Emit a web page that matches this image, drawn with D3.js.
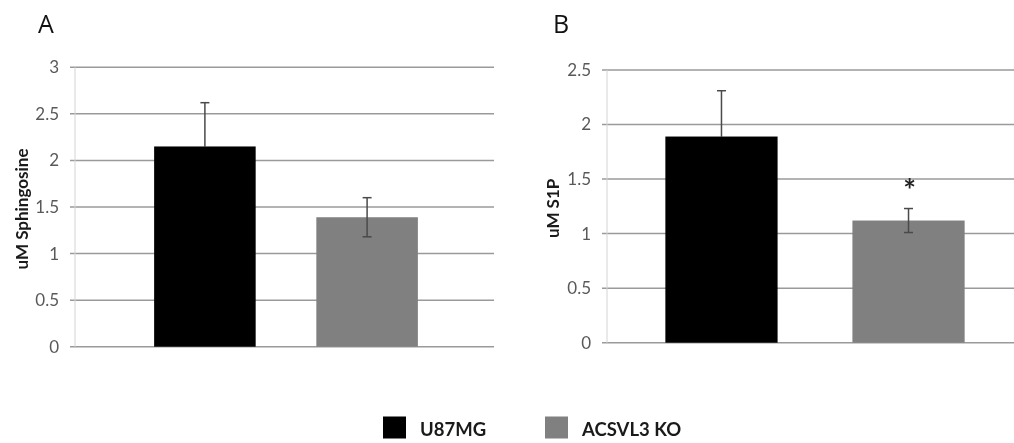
<!DOCTYPE html>
<head>
	<meta charset="utf-8">
	<title>Sphingosine and S1P</title>
	<script src="https://cdn.jsdelivr.net/npm/d3@7"></script>
	<style>
		body { margin: 0; background: #fff; }
		svg { font-family: Lato, "Open Sans", sans-serif; }
	</style>
</head>

<body>
	<div id="chart"></div>

  <script>
		var series = ["U87MG", "ACSVL3 KO"];
		var colors = ["#000000", "#808080"];
		var sphingosine = [2.15, 1.39];
		var sphingosineErr = [0.47, 0.21];
		var s1p = [1.89, 1.12];
		var s1pErr = [0.42, 0.11];
		var ticksA = [0, 0.5, 1, 1.5, 2, 2.5, 3];
		var ticksB = [0, 0.5, 1, 1.5, 2, 2.5];

		var svg = d3.select("#chart").append("svg")
			.attr("width", 1014)
			.attr("height", 443);

		// one panel: a single category with two clustered bars
		function panel(opt) {
			var y = d3.scaleLinear().domain([0, opt.max]).range([opt.bottom, opt.top]);
			var x0 = d3.scaleBand().domain(["all"]).range([opt.left, opt.right])
				.paddingInner(0).paddingOuter(opt.outer);
			var x1 = d3.scaleBand().domain(series).range([0, x0.bandwidth()])
				.paddingInner(opt.inner).paddingOuter(0);

			var g = svg.append("g");

			// gridlines (with the little tick stub left of the axis)
			g.selectAll("line.grid").data(opt.ticks).enter().append("line")
				.attr("class", "grid")
				.attr("x1", opt.left - 5).attr("x2", opt.gridRight)
				.attr("y1", function (d) { return y(d); })
				.attr("y2", function (d) { return y(d); })
				.style("stroke", "#9a9a9a").style("stroke-width", 1.5);

			g.append("line")
				.attr("x1", opt.left).attr("x2", opt.left)
				.attr("y1", y(opt.max)).attr("y2", y(0))
				.style("stroke", "#d4d4d4").style("stroke-width", 1);

			// tick labels via d3 axis, then strip its lines
			var ax = g.append("g")
				.attr("transform", "translate(" + (opt.left - 5) + ",0)")
				.call(d3.axisLeft(y).tickValues(opt.ticks).tickSize(0).tickPadding(11)
					.tickFormat(function (d) { return String(d); }));
			ax.select(".domain").remove();
			ax.selectAll("text").style("font-size", "17px").style("fill", "#595959")
				.style("font-family", "Lato, 'Open Sans', sans-serif");

			var gx = x0("all");
			g.selectAll("rect.bar").data(opt.values).enter().append("rect")
				.attr("class", "bar")
				.attr("x", function (d, i) { return gx + x1(series[i]); })
				.attr("width", x1.bandwidth())
				.attr("y", function (d) { return y(d); })
				.attr("height", function (d) { return y(0) - y(d); })
				.style("fill", function (d, i) { return colors[i]; });

			// error bars; "darken" hides them on the black bar like the original
			opt.values.forEach(function (v, i) {
				var cx = gx + x1(series[i]) + x1.bandwidth() / 2;
				var hi = y(v + opt.err[i]), lo = y(v - opt.err[i]);
				var eb = g.append("g").style("mix-blend-mode", "darken");
				eb.append("line").attr("x1", cx).attr("x2", cx).attr("y1", hi).attr("y2", lo)
					.style("stroke", "#4a4a4a").style("stroke-width", 1.5);
				[hi, lo].forEach(function (yy) {
					eb.append("line").attr("x1", cx - 4.5).attr("x2", cx + 4.5)
						.attr("y1", yy).attr("y2", yy)
						.style("stroke", "#4a4a4a").style("stroke-width", 1.5);
				});
				if (opt.star && opt.star[i]) {
					g.append("text").attr("x", cx + 1).attr("y", hi - 8)
						.attr("text-anchor", "middle")
						.style("font-size", "30px").style("font-weight", "bold")
						.style("fill", "#222").text("*");
				}
			});

			g.append("text")
				.attr("transform", "translate(" + opt.labelX + "," + ((y(0) + y(opt.max)) / 2 + 2) + ") rotate(-90)")
				.attr("text-anchor", "middle")
				.style("font-size", "17px").style("font-weight", "bold").style("fill", "#1a1a1a")
				.text(opt.label);

			g.append("text")
				.attr("x", opt.letterX).attr("y", 33)
				.style("font-size", "25px").style("fill", "#111")
				.style("font-family", "'Open Sans', Lato, sans-serif")
				.text(opt.letter);
		}

		panel({ values: sphingosine, err: sphingosineErr, ticks: ticksA, max: 3,
			top: 67.3, bottom: 346.7, left: 75, right: 497, gridRight: 494,
			outer: 0.3, inner: 0.374, label: "uM Sphingosine", labelX: 28,
			letter: "A", letterX: 38 });

		panel({ values: s1p, err: s1pErr, ticks: ticksB, max: 2.5,
			top: 70, bottom: 342.7, left: 607, right: 1023, gridRight: 1014,
			outer: 0.195, inner: 0.4, label: "uM S1P", labelX: 559,
			letter: "B", letterX: 553, star: [false, true] });

		// legend
		var legendX = [383, 545];
		var leg = svg.append("g");
		series.forEach(function (s, i) {
			leg.append("rect").attr("x", legendX[i]).attr("y", 416.5)
				.attr("width", 23).attr("height", 22).style("fill", colors[i]);
			leg.append("text").attr("x", legendX[i] + 37).attr("y", 436)
				.style("font-size", "18.5px").style("font-weight", "bold").style("fill", "#1a1a1a")
				.text(s);
		});
	</script>
</body>
</html>
